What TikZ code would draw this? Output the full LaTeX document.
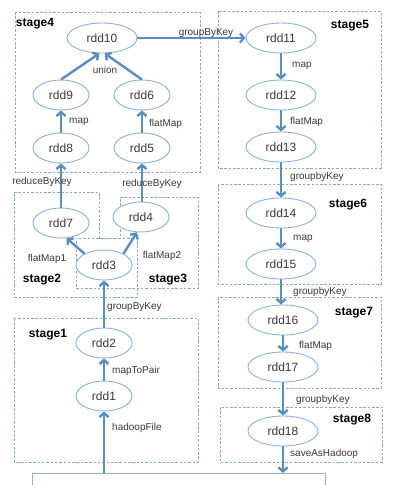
\documentclass[tikz,border=0pt]{standalone}
\usepackage{fontspec}
\setmainfont{Liberation Sans}
\usetikzlibrary{arrows.meta,shapes.geometric,calc}
\definecolor{arr}{HTML}{5B8DBD}
\definecolor{ell}{HTML}{8DB3D9}
\definecolor{stg}{HTML}{86A9CB}
\definecolor{txt}{HTML}{3A3A3A}
\tikzset{
  rdd/.style={ellipse, draw=ell, line width=0.9pt, fill=white, minimum width=56pt, minimum height=30pt, inner sep=0pt, font=\fontsize{12}{12}\selectfont, text=txt},
  rddw/.style={rdd, minimum width=70pt},
  flow/.style={draw=arr, line width=2.4pt, -{Straight Barb[length=4pt,width=9pt]}},
  stagebox/.style={draw=stg, line width=0.9pt, dash pattern=on 2.5pt off 1.8pt},
  stagelbl/.style={font=\bfseries\fontsize{12}{12}\selectfont, text=black, inner sep=0pt},
  elbl/.style={font=\fontsize{10}{10}\selectfont, text=txt, inner sep=0pt}
}
\begin{document}
\begin{tikzpicture}[x=1pt,y=-1pt]
\useasboundingbox (0,0) rectangle (402,485);
\clip (0,0) rectangle (402,485);
\fill[white] (0,0) rectangle (402,485);
% stage boxes
\draw[stagebox] (15,12) rectangle (200,172);
\draw[stagebox] (218,11) rectangle (381,168);
\draw[stagebox] (218,184) rectangle (381,284);
\draw[stagebox] (218,297) rectangle (381,388);
\draw[stagebox] (220,407) rectangle (382,462);
\draw[stagebox] (14,318) rectangle (198,462);
\draw[stagebox] (14,192) -- (99,192) -- (99,238) -- (137,238) -- (137,297) -- (14,297) -- cycle;
\draw[stagebox] (120,197) -- (198,197) -- (198,288) -- (76,288) -- (76,238) -- (120,238) -- cycle;
% stage labels
\node[stagelbl] (s4) at (35,24) {stage4};
\node[stagelbl] (s5) at (350,26) {stage5};
\node[stagelbl] (s6) at (348,205) {stage6};
\node[stagelbl] (s7) at (354,313) {stage7};
\node[stagelbl] (s8) at (352,420) {stage8};
\node[stagelbl] (s1) at (48,335) {stage1};
\node[stagelbl] (s2) at (42,280) {stage2};
\node[stagelbl] (s3) at (168,280) {stage3};
% bottom rectangle
\node[draw=ell, line width=0.9pt, anchor=north west, minimum width=293pt, minimum height=30pt, inner sep=0pt] (hdfs) at (32,473) {};
% rdd nodes
\node[rddw] (rdd10) at (102,38) {rdd10};
\node[rdd] (rdd9) at (61,95) {rdd9};
\node[rdd] (rdd6) at (142,95) {rdd6};
\node[rdd] (rdd8) at (61,148) {rdd8};
\node[rdd] (rdd5) at (142,148) {rdd5};
\node[rdd] (rdd7) at (61,223) {rdd7};
\node[rdd] (rdd4) at (141,217) {rdd4};
\node[rdd] (rdd3) at (104,265) {rdd3};
\node[rdd] (rdd2) at (104,343) {rdd2};
\node[rdd] (rdd1) at (104,396) {rdd1};
\node[rddw] (rdd11) at (281,38) {rdd11};
\node[rddw] (rdd12) at (281,95) {rdd12};
\node[rddw] (rdd13) at (281,147) {rdd13};
\node[rddw] (rdd14) at (281,213) {rdd14};
\node[rddw] (rdd15) at (281,264) {rdd15};
\node[rddw] (rdd16) at (283,320) {rdd16};
\node[rddw] (rdd17) at (283,367) {rdd17};
\node[rddw] (rdd18) at (283,431) {rdd18};
% arrows
\draw[flow] (rdd1 |- hdfs.north) -- (rdd1.south);
\draw[flow] (rdd1.north) -- (rdd2.south);
\draw[flow] (rdd2.north) -- (rdd3.south);
\draw[flow] (rdd3.150) -- (rdd7.-70);
\draw[flow] (rdd3.30) -- (rdd4.-105);
\draw[flow] (rdd7.north) -- (rdd8.south);
\draw[flow] (rdd4.north -| rdd5.south) -- (rdd5.south);
\draw[flow] (rdd8.north) -- (rdd9.south);
\draw[flow] (rdd5.north) -- (rdd6.south);
\draw[flow] (rdd9.north) -- (rdd10.-100);
\draw[flow] (rdd6.north) -- (rdd10.-80);
\draw[flow] (rdd10.east) -- (rdd11.west);
\draw[flow] (rdd11.south) -- (rdd12.north);
\draw[flow] (rdd12.south) -- (rdd13.north);
\draw[flow] (rdd13.south) -- (rdd14.north);
\draw[flow] (rdd14.south) -- (rdd15.north);
\draw[flow] (rdd15.south) -- (rdd15.south |- rdd16.north);
\draw[flow] (rdd16.south) -- (rdd17.north);
\draw[flow] (rdd17.south) -- (rdd18.north);
\draw[flow] (rdd18.south) -- (rdd18 |- hdfs.north);
% edge labels
\node[elbl, anchor=west] (l1) at (112,428) {hadoopFile};
\node[elbl, anchor=west] (l2) at (112,371) {mapToPair};
\node[elbl, anchor=west] (l3) at (107,307) {groupByKey};
\node[elbl] (l4) at (47,259) {flatMap1};
\node[elbl] (l5) at (162,256) {flatMap2};
\node[elbl] (l6) at (42,182) {reduceByKey};
\node[elbl] (l7) at (152,184) {reduceByKey};
\node[elbl, anchor=west] (l8) at (69,122) {map};
\node[elbl, anchor=west] (l9) at (149,124) {flatMap};
\node[elbl] (l10) at (105,70) {union};
\node[elbl] (l11) at (206,33) {groupByKey};
\node[elbl, anchor=west] (l12) at (292,66) {map};
\node[elbl, anchor=west] (l13) at (290,122) {flatMap};
\node[elbl, anchor=west] (l14) at (290,177) {groupbyKey};
\node[elbl, anchor=west] (l15) at (293,239) {map};
\node[elbl, anchor=west] (l16) at (293,292) {groupbyKey};
\node[elbl, anchor=west] (l17) at (299,346) {flatMap};
\node[elbl, anchor=west] (l18) at (296,400) {groupbyKey};
\node[elbl, anchor=west] (l19) at (290,454) {saveAsHadoop};
\end{tikzpicture}
\end{document}
